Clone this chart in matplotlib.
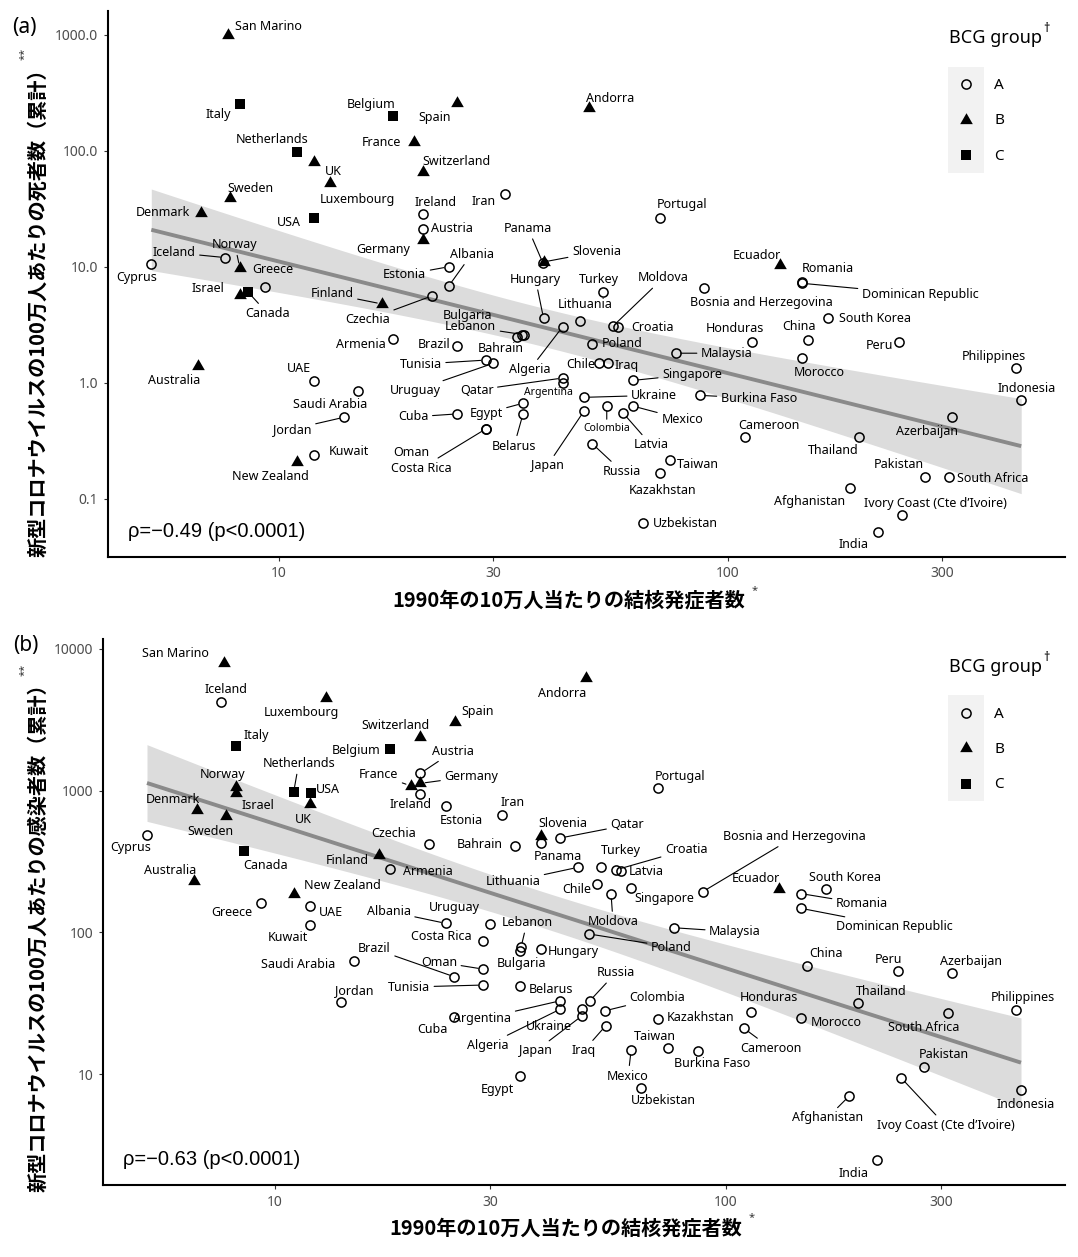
"""
BCG group scatter: 1990 TB incidence vs. cumulative COVID-19 deaths (a)
and cases (b) per million, log-log with a linear fit and 95% band.
"""

import matplotlib

matplotlib.use("Agg")
import matplotlib.pyplot as plt
from matplotlib.lines import Line2D
from matplotlib.patches import Rectangle
import numpy as np

W, H = 1078, 1257

LABEL_FONT = ["Noto Sans", "DejaVu Sans"]
CJK_FONT = ["Noto Sans CJK JP", "DejaVu Sans"]
STAT_FONT = ["Liberation Sans", "DejaVu Sans"]

# ---- data ------------------------------------------------------------------
countries = [
    "San Marino", "Italy", "Belgium", "Spain", "France", "Netherlands", "UK",
    "Luxembourg", "Switzerland", "Sweden", "Denmark", "USA", "Ireland", "Austria",
    "Germany", "Iran", "Iceland", "Norway", "Greece", "Cyprus", "Estonia",
    "Albania", "Israel", "Canada", "Finland", "Czechia", "Armenia", "Brazil",
    "Bahrain", "Bulgaria", "Lebanon", "Tunisia", "Uruguay", "Australia", "UAE",
    "Saudi Arabia", "Jordan", "Kuwait", "New Zealand", "Cuba", "Egypt", "Belarus",
    "Oman", "Costa Rica", "Qatar", "Argentina", "Algeria", "Hungary", "Panama",
    "Slovenia", "Portugal", "Andorra", "Turkey", "Moldova", "Lithuania", "Croatia",
    "Poland", "Chile", "Iraq", "Singapore", "Ukraine", "Japan", "Colombia",
    "Mexico", "Latvia", "Russia", "Taiwan", "Kazakhstan", "Uzbekistan",
    "Malaysia", "Burkina Faso", "Bosnia and Herzegovina", "Ecuador", "Romania",
    "Dominican Republic", "Honduras", "China", "Morocco", "South Korea", "Peru",
    "Philippines", "Indonesia", "Cameroon", "Thailand", "Azerbaijan", "Pakistan",
    "South Africa", "Afghanistan", "Ivory Coast (Cte d\u2019Ivoire)", "India",
]

bcg_group = [
    "B", "C", "C", "B", "B", "C", "B",
    "B", "B", "B", "B", "C", "A", "A",
    "B", "A", "A", "B", "A", "A", "A",
    "A", "B", "C", "B", "A", "A", "A",
    "A", "A", "A", "A", "A", "B", "A",
    "A", "A", "A", "B", "A", "A", "A",
    "A", "A", "A", "A", "A", "A", "A",
    "B", "A", "B", "A", "A", "A", "A",
    "A", "A", "A", "A", "A", "A", "A",
    "A", "A", "A", "A", "A", "A",
    "A", "A", "A", "B", "A",
    "A", "A", "A", "A", "A", "A",
    "A", "A", "A", "A", "A", "A",
    "A", "A", "A", "A",
]

# TB incidence per 100k in 1990
tb_1990 = [
    7.70, 8.19, 17.96, 25.0, 19.97, 11.0, 11.97,
    13.0, 20.98, 7.80, 6.71, 12.0, 21.0, 21.0,
    21.0, 31.9, 7.59, 8.19, 9.30, 5.20, 23.9,
    23.9, 8.19, 8.53, 16.98, 22.0, 17.96, 24.98,
    34.0, 34.9, 35.1, 28.9, 30.0, 6.60, 11.97,
    15.0, 14.0, 11.97, 11.0, 24.98, 35.0, 35.0,
    28.9, 28.9, 42.9, 42.9, 42.9, 38.9, 38.8,
    38.9, 70.8, 49.0, 52.9, 55.6, 46.9, 57.1,
    49.8, 51.8, 54.1, 61.6, 47.9, 47.9, 53.8,
    61.6, 58.5, 49.9, 74.3, 70.8, 64.7,
    76.7, 86.8, 88.8, 131, 146.7,
    146.7, 113.6, 151, 146.5, 167, 241,
    439, 451, 109.6, 196.5, 317, 275,
    311, 187.7, 245, 216,
]

# cumulative COVID-19 deaths per million
deaths_per_m = [
    986, 254, 198, 257, 119, 97.7, 80.2,
    52.3, 64.9, 38.8, 29.2, 26.1, 28.4, 21.0,
    17.0, 42.0, 12.0, 9.8, 6.7, 10.5, 10.0,
    6.8, 5.7, 6.1, 4.78, 5.63, 2.39, 2.08,
    2.47, 2.58, 2.60, 1.57, 1.47, 1.40, 1.04,
    0.85, 0.506, 0.24, 0.21, 0.54, 0.667, 0.537,
    0.40, 0.40, 1.10, 0.99, 3.04, 3.6, 10.7,
    11.0, 26.4, 231, 6.1, 3.09, 3.41, 3.04,
    2.16, 1.47, 1.47, 1.05, 0.75, 0.573, 0.633,
    0.63, 0.55, 0.30, 0.217, 0.167, 0.062,
    1.80, 0.78, 6.5, 10.3, 7.4,
    7.2, 2.26, 2.34, 1.63, 3.64, 2.24,
    1.34, 0.71, 0.344, 0.344, 0.506, 0.154,
    0.154, 0.124, 0.072, 0.052,
]

# cumulative COVID-19 cases per million
cases_per_m = [
    7910, 2080, 1970, 3070, 1084, 985, 805,
    4510, 2405, 659, 731, 957, 948, 1325,
    1126, 674, 4200, 1067, 161, 489, 774,
    116, 957, 373, 351, 421, 280, 48.7,
    409, 73.5, 78.4, 42.6, 114.7, 229, 154,
    63.1, 32.1, 113, 188, 25.5, 9.75, 42.0,
    55.2, 86.4, 464, 33.0, 28.8, 76.4, 425,
    481, 1038, 6200, 288, 187, 288, 277,
    97.5, 220, 22.0, 206, 28.8, 25.8, 28.0,
    14.8, 273, 33.0, 15.4, 24.7, 8.05,
    108, 14.6, 194, 202, 188,
    148, 27.5, 58.2, 25.1, 202, 53.1,
    28.5, 7.73, 21.1, 31.6, 51.7, 11.3,
    27.0, 7.04, 9.38, 2.48,
]

rho_text = ["\u03c1=\u22120.49 (p<0.0001)", "\u03c1=\u22120.63 (p<0.0001)"]
y_titles = ["新型コロナウイルスの100万人あたりの死者数（累計）",
            "新型コロナウイルスの100万人あたりの感染者数（累計）"]
x_title = "1990年の10万人当たりの結核発症者数"
x_ticks = [10, 30, 100, 300]
y_ticks_a = [0.1, 1, 10, 100, 1000]
y_ticklabels_a = ["0.1", "1.0", "10.0", "100.0", "1000.0"]
y_ticks_b = [10, 100, 1000, 10000]
y_ticklabels_b = ["10", "100", "1000", "10000"]

# ---- label placement (offset in pixels from the point, leader line) ---------
IVORY = countries[-2]
LAB_A = {
    "San Marino": (41, 9, 0), "Italy": (-22, -11, 0), "Belgium": (-22, 12, 0),
    "Spain": (-23, -14, 0), "France": (-32, -1, 0), "Netherlands": (-25, 12, 0),
    "UK": (20, -10, 0), "Luxembourg": (28, -16, 0), "Switzerland": (33, 11, 0),
    "Sweden": (20, 10, 0), "Denmark": (-38, 0, 0), "USA": (-25, -4, 0),
    "Ireland": (12, 12, 0), "Austria": (29, 1, 0), "Germany": (-40, -9, 0),
    "Iran": (-21, -7, 0), "Iceland": (-51, 5, 1), "Norway": (-5, 23, 1),
    "Greece": (8, 17, 0), "Cyprus": (-15, -13, 0), "Estonia": (-44, -8, 1),
    "Albania": (23, 32, 1), "Israel": (-32, 7, 0), "Canada": (20, -22, 1),
    "Finland": (-50, 10, 1), "Czechia": (-65, -24, 1), "Armenia": (-32, -6, 0),
    "Brazil": (-23, 1, 0), "Bahrain": (-17, -11, 0), "Bulgaria": (-55, 20, 0),
    "Lebanon": (-53, 8, 1), "Tunisia": (-65, -4, 1), "Uruguay": (-78, -27, 1),
    "Australia": (-24, -15, 0), "UAE": (-15, 12, 0), "Saudi Arabia": (-28, -13, 0),
    "Jordan": (-52, -12, 1), "Kuwait": (35, 3, 0), "New Zealand": (-27, -15, 0),
    "Cuba": (-44, -3, 1), "Egypt": (-37, -10, 1), "Belarus": (-9, -32, 1),
    "Oman": (-74, -23, 0), "Costa Rica": (-64, -39, 1), "Qatar": (-86, -12, 1),
    "Argentina": (-14, -9, 0), "Algeria": (-33, -43, 1), "Hungary": (-8, 39, 1),
    "Panama": (-15, 35, 1), "Slovenia": (53, 10, 1), "Portugal": (22, 13, 0),
    "Andorra": (22, 10, 0), "Turkey": (-5, 12, 0), "Moldova": (50, 48, 1),
    "Lithuania": (5, 16, 0), "Croatia": (34, -1, 0), "Poland": (30, 1, 0),
    "Chile": (-19, -1, 0), "Iraq": (19, -2, 0), "Singapore": (59, 6, 1),
    "Ukraine": (70, 2, 1), "Japan": (-37, -55, 1), "Colombia": (0, -23, 1),
    "Mexico": (49, -13, 1), "Latvia": (28, -32, 1), "Russia": (30, -28, 1),
    "Taiwan": (28, -5, 0), "Kazakhstan": (2, -17, 0), "Uzbekistan": (43, 0, 0),
    "Malaysia": (51, 0, 1), "Burkina Faso": (59, -3, 1),
    "Bosnia and Herzegovina": (57, -14, 0), "Ecuador": (-23, 10, 0),
    "Romania": (26, 13, 0), "Dominican Republic": (118, -11, 1),
    "Honduras": (-18, 13, 0), "China": (-9, 13, 0), "Morocco": (17, -14, 0),
    "South Korea": (47, -1, 0), "Peru": (-20, -3, 0), "Philippines": (-22, 12, 0),
    "Indonesia": (5, 12, 0), "Cameroon": (23, 11, 0), "Thailand": (-26, -14, 0),
    "Azerbaijan": (-25, -14, 0), "Pakistan": (-26, 13, 0),
    "South Africa": (44, -1, 0), "Afghanistan": (-41, -13, 0),
    IVORY: (33, 12, 0), "India": (-24, -13, 0),
}
LAB_B = {
    "San Marino": (-48, 10, 0), "Iceland": (5, 13, 0), "Luxembourg": (-25, -15, 0),
    "Spain": (23, 10, 0), "Switzerland": (-25, 11, 0), "Italy": (20, 10, 0),
    "Belgium": (-34, -2, 0), "Austria": (33, 22, 1), "Netherlands": (5, 28, 1),
    "France": (-32, 11, 1), "Germany": (51, 7, 1), "Ireland": (-10, -11, 0),
    "Norway": (-13, 12, 0), "Israel": (22, -12, 0), "USA": (17, 4, 0),
    "UK": (-7, -15, 0), "Denmark": (-24, 10, 0), "Sweden": (-16, -15, 0),
    "Cyprus": (-16, -13, 0), "Canada": (22, -14, 0), "Australia": (-24, 11, 0),
    "New Zealand": (49, 8, 0), "Greece": (-29, -9, 0), "UAE": (21, -7, 0),
    "Kuwait": (-22, -13, 0), "Iran": (10, 12, 0), "Estonia": (16, -14, 0),
    "Czechia": (-36, 10, 0), "Bahrain": (-35, 1, 0), "Finland": (-31, -5, 0),
    "Armenia": (38, -2, 0), "Albania": (-57, 12, 1), "Uruguay": (-36, 17, 0),
    "Lebanon": (6, 25, 1), "Bulgaria": (2, -12, 0), "Costa Rica": (-42, 5, 0),
    "Hungary": (32, -2, 0), "Brazil": (-80, 28, 1), "Oman": (-44, 7, 1),
    "Saudi Arabia": (-56, -4, 0), "Tunisia": (-74, -2, 1), "Belarus": (31, -4, 0),
    "Jordan": (13, 12, 0), "Argentina": (-78, -18, 1), "Algeria": (-73, -36, 1),
    "Cuba": (-22, -13, 0), "Ukraine": (-33, -17, 0), "Japan": (-46, -35, 1),
    "Egypt": (-23, -14, 0), "Russia": (26, 28, 1), "Colombia": (53, 13, 1),
    "Iraq": (-22, -25, 1), "Kazakhstan": (42, 1, 0), "Taiwan": (-13, 11, 0),
    "Mexico": (-3, -26, 1), "Burkina Faso": (14, -13, 0), "Uzbekistan": (23, -13, 0),
    "Poland": (82, -13, 1), "Moldova": (2, -28, 1), "Malaysia": (61, -4, 1),
    "Lithuania": (-65, -14, 1), "Turkey": (20, 17, 0), "Croatia": (70, 20, 1),
    "Latvia": (25, -1, 0), "Chile": (-20, -6, 0), "Singapore": (33, -11, 0),
    "Slovenia": (22, 12, 0), "Panama": (17, -13, 0), "Qatar": (67, 13, 1),
    "Andorra": (-24, -15, 0), "Portugal": (22, 12, 0),
    "Bosnia and Herzegovina": (92, 55, 1), "Ecuador": (-23, 11, 0),
    "South Korea": (19, 12, 0), "Romania": (61, -10, 1),
    "Dominican Republic": (93, -18, 1), "China": (19, 12, 0), "Peru": (-10, 12, 0),
    "Azerbaijan": (19, 12, 0), "Honduras": (18, 14, 0), "Thailand": (23, 12, 0),
    "Morocco": (35, -5, 0), "Cameroon": (27, -20, 1), "South Africa": (-25, -14, 0),
    "Philippines": (7, 12, 0), "Pakistan": (20, 12, 0), IVORY: (44, -47, 1),
    "Indonesia": (5, -14, 0), "Afghanistan": (-22, -22, 1), "India": (-23, -13, 0),
}
TEXT_B = {IVORY: "Ivoy Coast (Cte d\u2019Ivoire)"}
SMALL_A = {"Argentina", "Colombia"}

TRIANGLE = [(-1, -0.577), (1, -0.577), (0, 1.155)]
MARKERS = {
    "A": dict(marker="o", ms=6.6, mfc="none", mec="black", mew=1.1),
    "B": dict(marker=TRIANGLE, ms=10.5, mfc="black", mec="black", mew=0),
    "C": dict(marker="s", ms=7.2, mfc="black", mec="black", mew=0),
}
T95 = 1.987  # t quantile, df = n - 2


def fx(px):
    return px / W


def fy(py):
    return 1 - py / H


def log_limits(vals):
    lo, hi = np.log10(np.min(vals)), np.log10(np.max(vals))
    pad = 0.05 * (hi - lo)
    return 10 ** (lo - pad), 10 ** (hi + pad)


def draw_panel(ax, yvals, labels, text_override, small):
    x = np.asarray(tb_1990, float)
    y = np.asarray(yvals, float)
    lx, ly = np.log10(x), np.log10(y)

    # linear fit on the log-log scale with a 95% confidence band
    slope, intercept = np.polyfit(lx, ly, 1)
    n = len(lx)
    resid = ly - (intercept + slope * lx)
    s = np.sqrt(np.sum(resid ** 2) / (n - 2))
    sxx = np.sum((lx - lx.mean()) ** 2)
    grid = np.linspace(lx.min(), lx.max(), 200)
    fit = intercept + slope * grid
    se = s * np.sqrt(1 / n + (grid - lx.mean()) ** 2 / sxx)
    ax.fill_between(10 ** grid, 10 ** (fit - T95 * se), 10 ** (fit + T95 * se),
                    color="#dcdcdc", lw=0, zorder=1)
    ax.plot(10 ** grid, 10 ** fit, color="#8a8a8a", lw=2.8, zorder=2,
            solid_capstyle="butt")

    groups = np.asarray(bcg_group)
    for g, style in MARKERS.items():
        m = groups == g
        ax.plot(x[m], y[m], ls="none", zorder=4, **style)

    for name, xv, yv in zip(countries, x, y):
        dx, dy, line = labels[name]
        kw = dict(xy=(xv, yv), xytext=(dx, dy), textcoords="offset pixels",
                  ha="center", va="center", fontsize=7.5 if name in small else 9,
                  family=LABEL_FONT, zorder=5, annotation_clip=False)
        if line:
            kw["arrowprops"] = dict(arrowstyle="-", lw=0.8, color="black",
                                    shrinkA=1, shrinkB=3.5)
        ax.annotate(text_override.get(name, name), **kw)

    ax.set_xscale("log")
    ax.set_yscale("log")
    ax.set_xlim(*log_limits(x))
    ax.set_ylim(*log_limits(y))
    ax.set_xticks(x_ticks)
    ax.set_xticklabels([str(t) for t in x_ticks])
    ax.minorticks_off()
    for side in ("top", "right"):
        ax.spines[side].set_visible(False)
    for side in ("left", "bottom"):
        ax.spines[side].set_linewidth(1.5)
    ax.tick_params(length=3, width=0.8, color="#333333", labelcolor="#4d4d4d",
                   labelsize=10, pad=4)
    for lab in ax.get_xticklabels() + ax.get_yticklabels():
        lab.set_family(LABEL_FONT)


def draw_legend(fig, top):
    # top = pixel y of the legend title centre
    fig.text(fx(949), fy(top), "BCG group", ha="left", va="center",
             fontsize=13, family=LABEL_FONT)
    fig.text(fx(1046.5), fy(top - 9), "\u2020", ha="center", va="center",
             fontsize=9, family=LABEL_FONT)
    fig.add_artist(Rectangle((fx(948.4), fy(top + 134.7)), fx(35.2), 106 / H,
                             transform=fig.transFigure, facecolor="#f2f2f2",
                             edgecolor="none"))
    for i, g in enumerate(["A", "B", "C"]):
        yk = top + 46.3 + 35.4 * i
        fig.add_artist(Line2D([fx(965.8)], [fy(yk)], transform=fig.transFigure,
                              ls="none", **MARKERS[g]))
        fig.text(fx(994), fy(yk + 1), g, ha="left", va="center", fontsize=11,
                 family=LABEL_FONT)


fig = plt.figure(figsize=(W / 100, H / 100), dpi=100)
ax_a = fig.add_axes([fx(107.8), fy(556.7), (1064.7 - 107.8) / W, (556.7 - 10.5) / H])
ax_b = fig.add_axes([fx(103.3), fy(1185), (1064.7 - 103.3) / W, (1185 - 638.5) / H])

draw_panel(ax_a, deaths_per_m, LAB_A, {}, SMALL_A)
ax_a.set_yticks(y_ticks_a)
ax_a.set_yticklabels(y_ticklabels_a, family=LABEL_FONT)
draw_panel(ax_b, cases_per_m, LAB_B, TEXT_B, set())
ax_b.set_yticks(y_ticks_b)
ax_b.set_yticklabels(y_ticklabels_b, family=LABEL_FONT)

for ax, txt in zip((ax_a, ax_b), rho_text):
    ax.text(0.021, 0.047, txt, transform=ax.transAxes, ha="left", va="center",
            fontsize=14.5, family=STAT_FONT, zorder=6)

# axis titles, superscript marks, panel letters
for yc, ysup, title in ((308, 54, y_titles[0]), (933, 670, y_titles[1])):
    fig.text(fx(38), fy(yc), title, rotation=90, ha="center", va="center",
             fontsize=14.5, fontweight="bold", family=CJK_FONT)
    fig.text(fx(24), fy(ysup), "**", rotation=90, ha="center", va="center",
             fontsize=8, color="#333333", family=LABEL_FONT)
for xc, yc, xs, ys in ((569, 600, 755, 591), (566, 1228, 752, 1218)):
    fig.text(fx(xc), fy(yc), x_title, ha="center", va="center",
             fontsize=14.5, fontweight="bold", family=CJK_FONT)
    fig.text(fx(xs), fy(ys), "*", ha="center", va="center", fontsize=8,
             color="#333333", family=LABEL_FONT)
fig.text(fx(24.6), fy(27), "(a)", ha="center", va="center", fontsize=15,
         family=LABEL_FONT)
fig.text(fx(25.8), fy(645), "(b)", ha="center", va="center", fontsize=15,
         family=LABEL_FONT)

draw_legend(fig, 38)
draw_legend(fig, 666.7)

fig.savefig("out.png", dpi=100)
